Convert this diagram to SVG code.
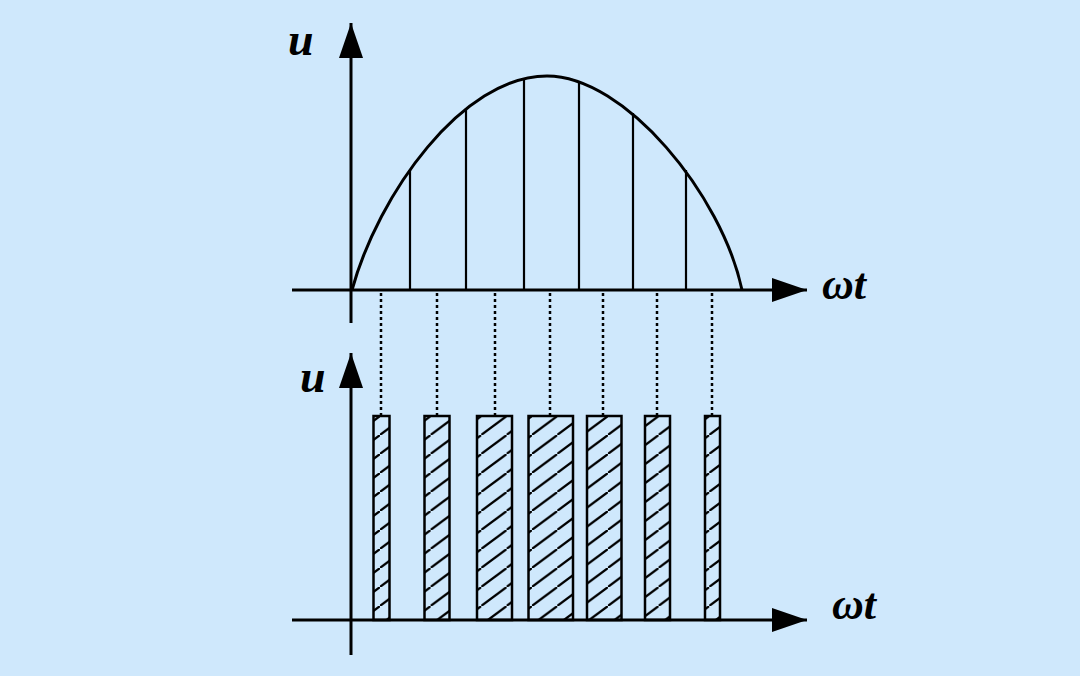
<svg xmlns="http://www.w3.org/2000/svg" width="1080" height="676" viewBox="0 0 1080 676">
<style>
.ax{stroke:#000;stroke-width:3;fill:none}
.cv{stroke:#000;stroke-width:3;fill:none}
.vl{stroke:#000;stroke-width:2.2}
.dt{stroke:#000;stroke-width:2.5;stroke-dasharray:3 3}
.pl{fill:url(#hatch);stroke:#000;stroke-width:2.5}
.lb{font-family:"Liberation Serif","Times New Roman",serif;font-style:italic;font-weight:bold;fill:#000}
</style>
<defs>
<marker id="arr" markerUnits="userSpaceOnUse" markerWidth="36" markerHeight="24" refX="35" refY="12" orient="auto">
<path d="M0,0 L35,12 L0,24 Z" fill="#000"/>
</marker>
<pattern id="hatch" patternUnits="userSpaceOnUse" x="0" y="416" width="25.33" height="19">
<rect width="25.33" height="19" fill="#cfe8fc"/>
<path d="M-2,20.5 L27.33,-1.5" stroke="#000" stroke-width="2.2"/>
</pattern>
</defs>
<rect width="1080" height="676" fill="#cfe8fc"/>
<g id="top-graph">
<g id="top-vertical-lines">
<line class="vl" x1="410" y1="170" x2="410" y2="290"/>
<line class="vl" x1="466" y1="108" x2="466" y2="290"/>
<line class="vl" x1="524" y1="79" x2="524" y2="290"/>
<line class="vl" x1="579" y1="81" x2="579" y2="290"/>
<line class="vl" x1="633" y1="113" x2="633" y2="290"/>
<line class="vl" x1="686" y1="170" x2="686" y2="290"/>
</g>
<path id="sine-curve" class="cv" d="M352,290 C378,195 462,76 547,76 C625,76 722,195 742,290"/>
</g>
<g id="bottom-pulses">
<rect class="pl" x="373.5" y="416" width="16" height="204"/>
<rect class="pl" x="424.5" y="416" width="25" height="204"/>
<rect class="pl" x="477" y="416" width="35" height="204"/>
<rect class="pl" x="528.5" y="416" width="44.5" height="204"/>
<rect class="pl" x="587" y="416" width="34.5" height="204"/>
<rect class="pl" x="645" y="416" width="25" height="204"/>
<rect class="pl" x="705" y="416" width="15" height="204"/>
</g>
<g id="connectors">
<line class="ax" x1="351" y1="323" x2="351" y2="23" marker-end="url(#arr)"/>
<line class="ax" x1="292" y1="290" x2="807" y2="290" marker-end="url(#arr)"/>
<line class="ax" x1="351" y1="655" x2="351" y2="353" marker-end="url(#arr)"/>
<line class="ax" x1="292" y1="620" x2="807" y2="620" marker-end="url(#arr)"/>
<line class="dt" x1="381" y1="293" x2="381" y2="416"/>
<line class="dt" x1="437" y1="293" x2="437" y2="416"/>
<line class="dt" x1="495" y1="293" x2="495" y2="416"/>
<line class="dt" x1="550" y1="293" x2="550" y2="416"/>
<line class="dt" x1="603" y1="293" x2="603" y2="416"/>
<line class="dt" x1="657" y1="293" x2="657" y2="416"/>
<line class="dt" x1="712" y1="293" x2="712" y2="416"/>
</g>
<g id="labels">
<text class="lb" x="288" y="55" font-size="46">u</text>
<text class="lb" x="822" y="299" font-size="44">ωt</text>
<text class="lb" x="300" y="392" font-size="46">u</text>
<text class="lb" x="832" y="619" font-size="44">ωt</text>
</g>
</svg>
